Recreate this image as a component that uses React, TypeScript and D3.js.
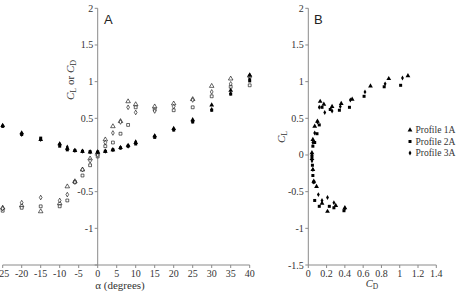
import React from "react";
import * as d3 from "d3";

const alpha = [-25, -20, -15, -10, -8, -6, -4, -2, 0, 2, 4, 6, 8, 10, 15, 20, 25, 30, 35, 40];

const cl1 = [-0.72, -0.69, -0.77, -0.66, -0.43, -0.36, -0.2, -0.05, 0.03, 0.21, 0.39, 0.46, 0.73, 0.69, 0.66, 0.7, 0.76, 0.94, 1.04, 1.08];
const cd1 = [0.4, 0.3, 0.21, 0.15, 0.09, 0.06, 0.05, 0.04, 0.04, 0.05, 0.07, 0.1, 0.13, 0.17, 0.26, 0.36, 0.48, 0.68, 0.88, 1.09];

const cl2 = [-0.76, -0.72, -0.7, -0.7, -0.62, -0.37, -0.28, -0.14, -0.02, 0.12, 0.17, 0.29, 0.41, 0.65, 0.62, 0.61, 0.65, 0.8, 0.93, 0.95];
const cd2 = [0.39, 0.28, 0.23, 0.12, 0.07, 0.06, 0.05, 0.045, 0.04, 0.05, 0.07, 0.095, 0.12, 0.15, 0.24, 0.34, 0.45, 0.61, 0.83, 1.01];

const cl3 = [-0.73, -0.65, -0.58, -0.62, -0.54, -0.37, -0.2, -0.08, 0.0, 0.17, 0.3, 0.45, 0.65, 0.58, 0.6, 0.66, 0.75, 0.86, 0.97, 1.05];
const cd3 = [0.4, 0.28, 0.21, 0.15, 0.11, 0.06, 0.05, 0.04, 0.04, 0.05, 0.07, 0.1, 0.12, 0.18, 0.26, 0.35, 0.46, 0.62, 0.84, 1.03];

const profiles = ["Profile 1A", "Profile 2A", "Profile 3A"];

const yTicks = [-1.5, -1, -0.5, 0, 0.5, 1, 1.5, 2];
const yTicksA = [-1, -0.5, 0.5, 1, 1.5, 2];
const xTicksA = [-25, -20, -15, -10, -5, 0, 5, 10, 15, 20, 25, 30, 35, 40];
const xTicksB = [0, 0.2, 0.4, 0.6, 0.8, 1, 1.2, 1.4];

const AX = "#8a8a8a";
const TXT = "#333";
const SERIF = "'Liberation Serif', 'DejaVu Serif', serif";
const SANS = "'Liberation Sans', Arial, sans-serif";

export default function App() {
  const xA = d3.scaleLinear().domain([-25, 40]).range([2.7, 249.7]);
  const y = d3.scaleLinear().domain([-1.5, 2]).range([265, 8.3]);
  const xB = d3.scaleLinear().domain([0, 1.4]).range([308.3, 436.3]);

  const symTypes = [d3.symbolTriangle, d3.symbolSquare, d3.symbolDiamond];
  const sizes = [10, 9, 7];
  const sym = (i: number, s?: number) => d3.symbol().type(symTypes[i]).size(s ?? sizes[i])() as string;

  const series = [
    { cl: cl1, cd: cd1 },
    { cl: cl2, cd: cd2 },
    { cl: cl3, cd: cd3 },
  ];

  const fmt = (v: number) => String(v);
  const serif = { fontFamily: SERIF };

  return (
    <svg width={456} height={291} style={{ position: "absolute", left: 0, top: 0, background: "#fff" }}>
      <rect x={0} y={0} width={456} height={291} fill="#fff" />
      {/* Panel A axes */}
      <line x1={xA(0)} x2={xA(0)} y1={y(2)} y2={y(-1.5)} stroke={AX} strokeWidth={1} />
      <line x1={xA(-25)} x2={xA(40)} y1={y(-1.5)} y2={y(-1.5)} stroke={AX} strokeWidth={1} />
      {yTicks.map((t) => (
        <line key={"ya" + t} x1={xA(0) - 3} x2={xA(0)} y1={y(t)} y2={y(t)} stroke={AX} />
      ))}
      {yTicksA.map((t) => (
        <text key={"yal" + t} x={xA(0) - 4.5} y={y(t)} dy="0.35em" textAnchor="end" style={serif} fontSize={10} fill={TXT}>
          {fmt(t)}
        </text>
      ))}
      {xTicksA.map((t) => (
        <g key={"xa" + t}>
          <line x1={xA(t)} x2={xA(t)} y1={y(-1.5)} y2={y(-1.5) + 3} stroke={AX} />
          <text x={xA(t)} y={y(-1.5) + 11.5} textAnchor="middle" style={serif} fontSize={10} fill={TXT}>
            {fmt(t)}
          </text>
        </g>
      ))}
      <text x={120} y={289} textAnchor="middle" style={serif} fontSize={11} fill={TXT}>
        α (degrees)
      </text>
      <text transform="translate(74,80) rotate(-90)" textAnchor="middle" style={serif} fontSize={11} fill={TXT}>
        <tspan fontStyle="italic">C</tspan>
        <tspan fontSize={8} dy={2}>L</tspan>
        <tspan dy={-2}> or </tspan>
        <tspan fontStyle="italic">C</tspan>
        <tspan fontSize={8} dy={2}>D</tspan>
      </text>
      <text x={104} y={24} style={{ fontFamily: SANS }} fontSize={13} fill="#222">A</text>

      {/* Panel A data: CL open, CD filled */}
      {series.map((s, i) =>
        alpha.map((a, j) => (
          <path key={`acl${i}-${j}`} d={sym(i, sizes[i] * 0.9)} transform={`translate(${xA(a)},${y(s.cl[j])})`} fill="#fff" stroke="#000" strokeWidth={0.6} />
        ))
      )}
      {series.map((s, i) =>
        alpha.map((a, j) => (
          <path key={`acd${i}-${j}`} d={sym(i)} transform={`translate(${xA(a)},${y(s.cd[j])})`} fill="#000" />
        ))
      )}

      {/* Panel B axes */}
      <line x1={xB(0)} x2={xB(0)} y1={y(2)} y2={y(-1.5)} stroke={AX} strokeWidth={1} />
      <line x1={xB(0)} x2={xB(1.4)} y1={y(-1.5)} y2={y(-1.5)} stroke={AX} strokeWidth={1} />
      {yTicks.map((t) => (
        <g key={"yb" + t}>
          <line x1={xB(0) - 3} x2={xB(0)} y1={y(t)} y2={y(t)} stroke={AX} />
          <text x={xB(0) - 4.5} y={y(t)} dy="0.35em" textAnchor="end" style={serif} fontSize={10} fill={TXT}>
            {fmt(t)}
          </text>
        </g>
      ))}
      {xTicksB.map((t) => (
        <g key={"xb" + t}>
          <line x1={xB(t)} x2={xB(t)} y1={y(-1.5)} y2={y(-1.5) + 3} stroke={AX} />
          <text x={xB(t)} y={y(-1.5) + 11.5} textAnchor="middle" style={serif} fontSize={10} fill={TXT}>
            {fmt(t)}
          </text>
        </g>
      ))}
      <text x={372} y={287} textAnchor="middle" style={serif} fontSize={10.5} fill={TXT}>
        <tspan fontStyle="italic">C</tspan>
        <tspan fontSize={7.5} dy={2}>D</tspan>
      </text>
      <text transform="translate(285,137) rotate(-90)" textAnchor="middle" style={serif} fontSize={11} fill={TXT}>
        <tspan fontStyle="italic">C</tspan>
        <tspan fontSize={8} dy={2}>L</tspan>
      </text>
      <text x={314} y={24} style={{ fontFamily: SANS }} fontSize={13} fill="#222">B</text>

      {series.map((s, i) =>
        alpha.map((a, j) => (
          <path key={`b${i}-${j}`} d={sym(i)} transform={`translate(${xB(s.cd[j])},${y(s.cl[j])})`} fill="#000" />
        ))
      )}

      {/* Legend */}
      {profiles.map((p, i) => (
        <g key={p} transform={`translate(410,${130 + i * 11.5})`}>
          <path d={sym(i)} fill="#000" />
          <text x={5.5} y={0} dy="0.35em" style={serif} fontSize={9.5} fill={TXT}>{p}</text>
        </g>
      ))}
    </svg>
  );
}
